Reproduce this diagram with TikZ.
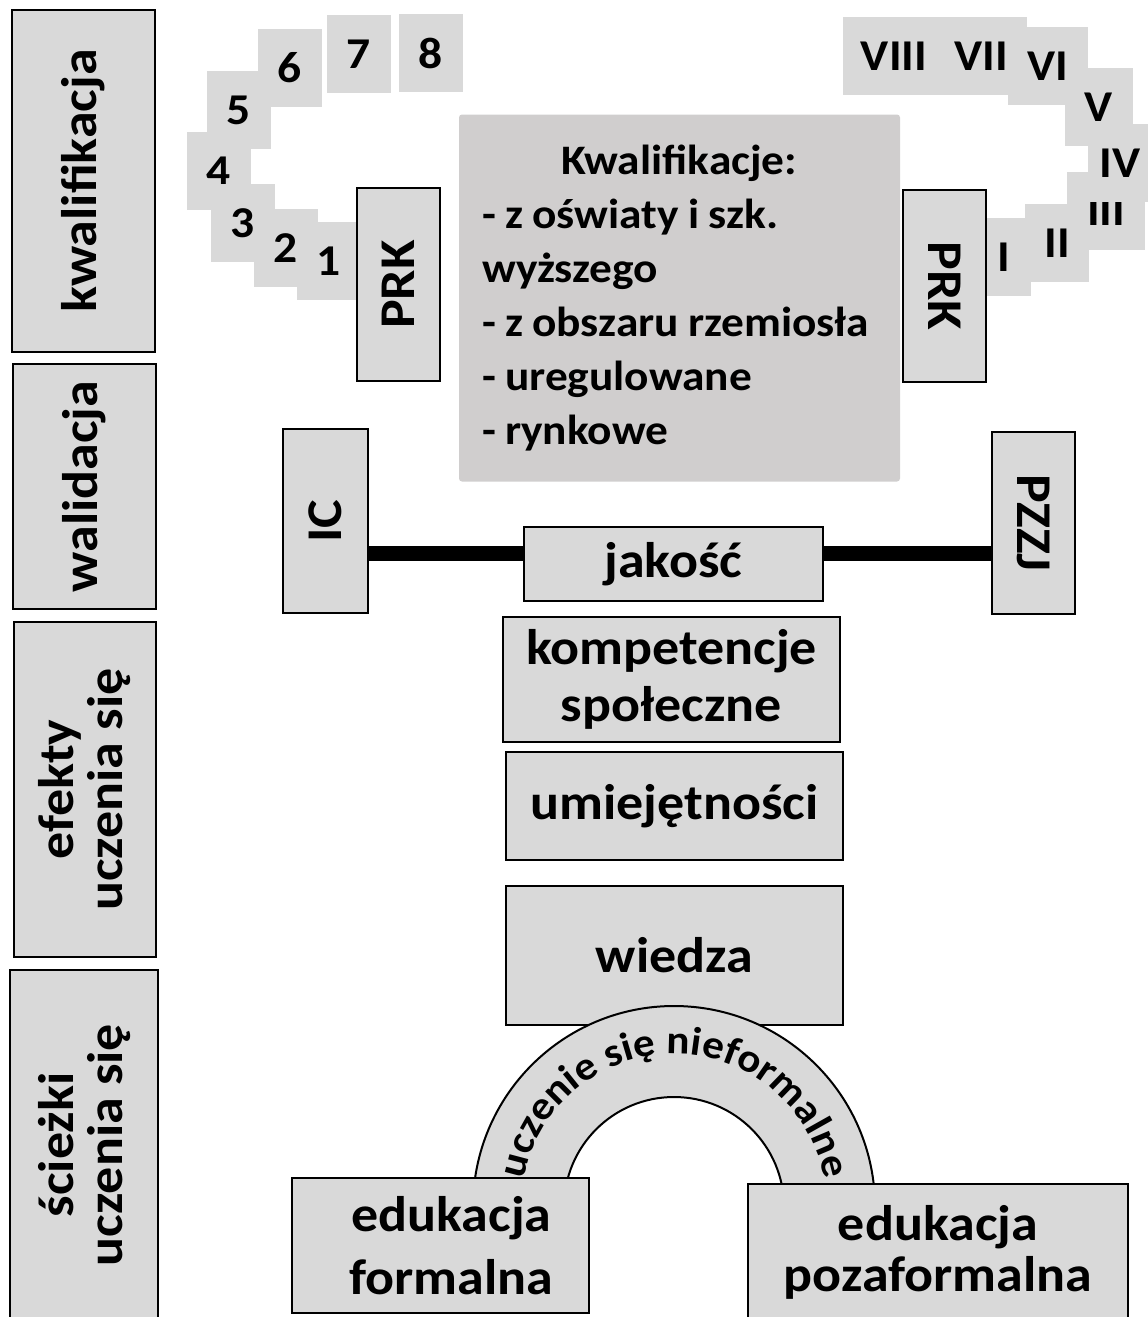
\documentclass[tikz,border=0pt]{standalone}
\usepackage{fontspec}
\setmainfont{Carlito}[FakeStretch=1.08]
\usetikzlibrary{decorations.text}
\definecolor{boxgray}{HTML}{D9D9D9}
\definecolor{centgray}{HTML}{D0CECE}
\newcommand{\bigfont}{\fontsize{50}{57}\selectfont\bfseries}
\newcommand{\sidefont}{\fontsize{50}{49}\selectfont\bfseries}
\newcommand{\listfont}{\fontsize{42}{54}\selectfont\bfseries}
\newcommand{\lvlfont}{\fontsize{44}{50}\selectfont\bfseries}
\newcommand{\archfont}{\fontsize{40}{48}\selectfont\bfseries}
\tikzstyle{box}=[rectangle, draw, line width=2pt, fill=boxgray, inner sep=0pt, align=center, font=\bigfont]
\tikzstyle{upbox}=[box, rotate=90]
\tikzstyle{downbox}=[box, rotate=-90]
\tikzstyle{sidebox}=[upbox, font=\sidefont]
\tikzstyle{lvl}=[rectangle, fill=boxgray, inner sep=0pt, minimum width=64pt, minimum height=78pt, font=\lvlfont]
\tikzstyle{quals}=[rectangle, fill=centgray, rounded corners=3pt, inner sep=0pt, text width=395pt, minimum width=441pt, minimum height=367pt, align=left, font=\listfont]
\tikzstyle{bar}=[-, line width=15pt]
\tikzstyle{arch}=[draw, line width=2pt, fill=boxgray]

\begin{document}
\begin{tikzpicture}[x=1pt, y=-1pt]
				\useasboundingbox (0,0) rectangle (1148,1317);
				\clip (0,0) rectangle (1148,1317);

				%The left column
				\draw (83.5,181) node[sidebox, minimum width=342pt, minimum height=143pt] (kwal) {kwalifikacja};
				\draw (84.5,486.5) node[sidebox, minimum width=245pt, minimum height=143pt] (walid) {walidacja};
				\draw (85,789.5) node[sidebox, minimum width=335pt, minimum height=142pt] (efekty) {efekty\\uczenia się};
				\draw (84,1145) node[sidebox, minimum width=350pt, minimum height=148pt] (sciezki) {ścieżki\\uczenia się};

				%The levels of PRK
				\draw (431,53) node[lvl] (l8) {8};
				\draw (359,54) node[lvl] (l7) {7};
				\draw (290,68) node[lvl] (l6) {6};
				\draw (239,110) node[lvl] (l5) {5};
				\draw (219,171) node[lvl] (l4) {4};
				\draw (242.5,223) node[lvl] (l3) {3};
				\draw (286,248) node[lvl] (l2) {2};
				\draw (329,261) node[lvl] (l1) {1};
				\draw (398.5,284.5) node[upbox, minimum width=193pt, minimum height=83pt] (prkl) {PRK};

				%The levels of ERK
				\draw (894,56) node[lvl, minimum width=102pt] (r8) {VIII};
				\draw (981,56) node[lvl, minimum width=92pt] (r7) {VII};
				\draw (1048,66) node[lvl, minimum width=80pt] (r6) {VI};
				\draw (1099,107) node[lvl, minimum width=68pt] (r5) {V};
				\draw (1106,211) node[lvl, minimum width=78pt] (r3) {III};
				\draw (1120,163) node[lvl] (r4) {IV};
				\draw (1057,243) node[lvl] (r2) {II};
				\draw (1004,257) node[lvl, minimum width=54pt] (r1) {I};
				\draw (944.5,286) node[downbox, minimum width=192pt, minimum height=83pt] (prkr) {PRK};

				%The qualifications
				\draw (679.5,298) node[quals] (kwalif) {\spaceskip=0.22em\relax
					\makebox[\linewidth][c]{Kwalifikacje:}\\
					- z oświaty i szk.\\ wyższego\\ \mbox{- z obszaru rzemiosła}\\ - uregulowane\\ - rynkowe};

				%The validation
				\draw (325.5,521) node[upbox, minimum width=184pt, minimum height=85pt] (ic) {IC};
				\draw (1033.5,523) node[downbox, minimum width=182pt, minimum height=83pt] (pzzj) {PZZJ};
				\draw[bar] ([yshift=-32pt]ic.south) -- ([yshift=-32pt]ic.south -| pzzj.south);
				\draw (673.5,564) node[box, minimum width=299pt, minimum height=74pt] (jakosc) {jakość};

				%The learning outcomes
				\draw (671.5,679.5) node[box, minimum width=337pt, minimum height=125pt] (komp) {kompetencje\\społeczne};
				\draw (674.5,806) node[box, minimum width=337pt, minimum height=108pt] (umiej) {umiejętności};
				\draw (674.5,955.5) node[box, minimum width=337pt, minimum height=139pt] (wiedza) {wiedza};

				%The learning paths
				\draw[arch] (875,1207) arc (0:-180:201) -- (564,1207) arc (180:360:110) -- cycle;
				\path[decorate, decoration={text along path, text align=center,
					text={|\archfont|uczenie się nieformalne}}] (521,1207) arc (180:360:153);
				\draw (440.5,1245.5) node[box, minimum width=297pt, minimum height=135pt, font=\fontsize{50}{63}\selectfont\bfseries] (formal) {\hspace*{22pt}edukacja\\\hspace*{22pt}formalna};
				\draw (938,1252) node[box, minimum width=380pt, minimum height=136pt, font=\fontsize{50}{51}\selectfont\bfseries] (pozaf) {edukacja\\pozaformalna};
			\end{tikzpicture}
\end{document}
